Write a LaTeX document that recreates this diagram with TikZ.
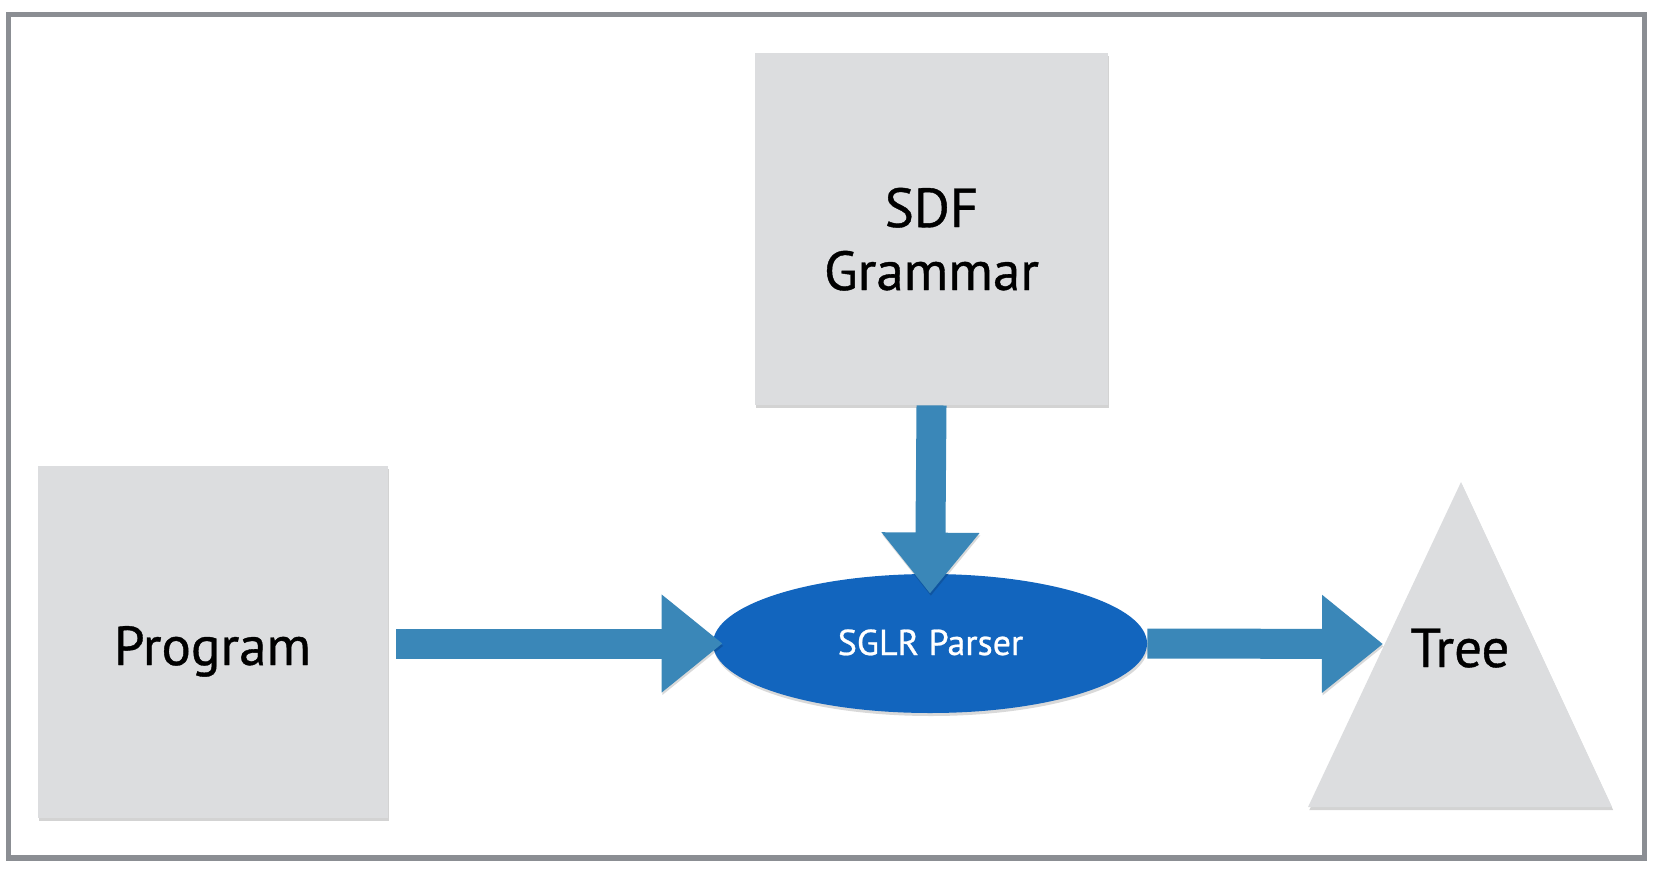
\documentclass[tikz,border=0pt]{standalone}
\usepackage{fontspec}
\setmainfont{PT Sans}
\newfontfamily\diafont{PT Sans}[FakeBold=0.7]
\usetikzlibrary{arrows.meta,shadows,shapes.geometric}
\definecolor{boxgray}{HTML}{DCDDDF}
\definecolor{framegray}{HTML}{8B8E93}
\definecolor{arrowblue}{HTML}{3A87B8}
\definecolor{parserblue}{HTML}{1265BE}
\tikzset{
  graybox/.style={rectangle, fill=boxgray, inner sep=0pt,
    drop shadow={shadow xshift=0.7pt, shadow yshift=-1.6pt, opacity=0.35}},
  bigtext/.style={inner sep=0pt, anchor=base, font=\diafont\fontsize{27.5}{31}\selectfont},
  bigarrow/.style={draw=arrowblue, line width=15pt,
    -{Triangle[length=30.5pt, width=47pt]},
    preaction={draw=black, opacity=0.15, transform canvas={yshift=-1.2pt, xshift=0.4pt}}},
}
\begin{document}
\begin{tikzpicture}[x=0.5pt, y=-0.5pt]
\useasboundingbox (0,0) rectangle (1668,888);
% frame
\draw[framegray, line width=2.75pt] (8.5,14.5) rectangle (1644.5,858);
% grammar box
\node[graybox, minimum width=176.5pt, minimum height=176pt] (grammar) at (931.5,229) {};
\node[bigtext] (sdf) at (931.5,227) {SDF};
\node[bigtext] (gram) at (931.5,290) {Grammar};
% program box
\node[graybox, minimum width=175pt, minimum height=176pt] (prog) at (213,642) {};
\node[bigtext] (progtext) at (212.5,665) {Program};
% parser ellipse
\node[ellipse, fill=parserblue, minimum width=217pt, minimum height=69.5pt, inner sep=0pt,
  drop shadow={shadow xshift=0.5pt, shadow yshift=-1.5pt, opacity=0.3}] (parser) at (930,643.5) {};
\node[inner sep=0pt, anchor=base, text=white, font=\diafont\fontsize{18}{20}\selectfont] (parsertext) at (930.5,655) {SGLR Parser};
% tree triangle
\fill[boxgray, drop shadow={shadow xshift=0.6pt, shadow yshift=-1.6pt, opacity=0.35}]
  (1461,482) -- (1612,807) -- (1308,807) -- cycle;
\node[bigtext] (tree) at (1460,667) {Tree};
\coordinate (treein) at (1383,644);
% connectors
\draw[bigarrow] ([xshift=4pt]prog.east |- parser.west) -- ([xshift=5pt]parser.west);
\draw[bigarrow] (grammar.south) -- ([yshift=-10pt]parser.north);
\draw[bigarrow] (parser.east) -- (treein);
\end{tikzpicture}
\end{document}
